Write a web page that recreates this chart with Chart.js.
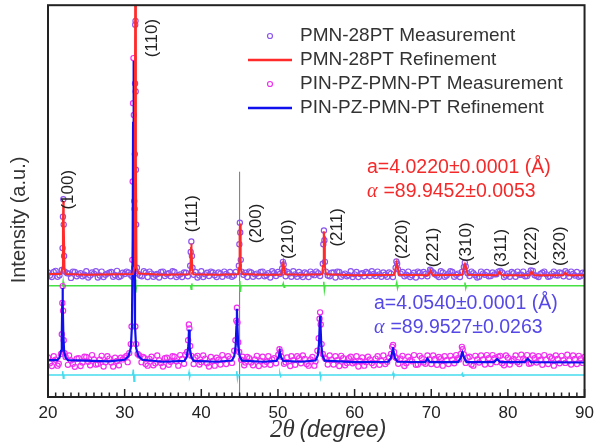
<!DOCTYPE html>
<html>
<head>
<meta charset="utf-8">
<script src="https://cdn.jsdelivr.net/npm/chart.js@4.4.1/dist/chart.umd.min.js"></script>
<style>body{margin:0;background:#fff}</style>
</head>
<body>
<canvas id="xrd" width="600" height="446"></canvas>
<script>
// PMN-28PT refinement (2theta, intensity a.u.)
const pmnFit = [[20,31.4],[21.7,31.4],[21.85,33],[21.95,45],[22.0,50],[22.05,45],[22.15,33],[22.3,31.4],
  [25,31.2],[31.1,31.4],[31.25,33],[31.33,60],[31.4,130],[31.47,60],[31.55,33],[31.8,31.5],
  [35,31.2],[38.45,31.3],[38.58,33],[38.66,38],[38.7,39.2],[38.74,38],[38.82,33],[38.95,31.3],
  [42,31.2],[44.8,31.3],[44.93,33],[45.0,42],[45.05,44.3],[45.1,42],[45.17,33],[45.3,31.4],
  [48,31.2],[50.45,31.2],[50.6,33],[50.7,34.2],[50.8,33],[50.95,31.3],
  [53,31.2],[55.75,31.3],[55.88,33.5],[55.96,41],[56.0,42.3],[56.04,41],[56.12,33.5],[56.25,31.3],
  [60,31.1],[65.2,31.2],[65.35,32.8],[65.5,34.2],[65.65,32.8],[65.8,31.2],
  [69.6,31.1],[69.9,32.3],[70.2,31.1],
  [74.05,31.2],[74.25,33],[74.4,33.9],[74.55,33],[74.75,31.2],
  [78.6,31.1],[78.9,32.0],[79.2,31.1],[82.8,31.1],[83.1,32.0],[83.4,31.1],
  [87.2,31.1],[87.5,31.7],[87.8,31.1],[90,31.1]];

// PMN-28PT measured points
const pmnMeas = [[20.0,31.8],[20.5,30.6],[21.0,32.2],[21.5,31.1],[21.8,32.4],[21.9,38],[21.95,46],[22.0,50.5],[22.05,44],[22.1,36],[22.2,32.0],
  [22.5,31.6],[23.0,30.4],[23.5,31.9],[24.0,31.3],[24.5,30.8],[25.0,32.1],[25.5,31.0],[26.0,31.5],[26.5,30.5],[27.0,32.0],
  [27.5,31.2],[28.0,31.7],[28.5,30.7],[29.0,32.2],[29.5,30.9],[30.0,31.4],[30.5,31.8],[31.0,30.7],
  [31.25,33],[31.3,48],[31.33,62],[31.36,80],[31.38,95],[31.4,110],[31.42,96],[31.44,78],[31.47,58],[31.5,44],[31.6,33],
  [32.0,31.0],[32.5,32.1],[33.0,30.6],[33.5,31.5],[34.0,31.2],[34.5,30.5],[35.0,32.0],[35.5,31.4],[36.0,30.8],[36.5,31.9],
  [37.0,31.1],[37.5,30.6],[38.0,31.7],[38.55,33.5],[38.62,37],[38.7,39.7],[38.78,36],[38.85,33],
  [39.0,31.2],[39.5,30.5],[40.0,32.1],[40.5,31.3],[41.0,30.9],[41.5,31.8],[42.0,30.6],[42.5,31.5],[43.0,32.0],[43.5,31.0],
  [44.0,30.7],[44.5,31.9],[44.9,33.5],[44.97,39],[45.03,44.5],[45.08,42],[45.15,35],[45.25,32],
  [45.5,31.2],[46.0,30.6],[46.5,31.8],[47.0,31.3],[47.5,30.8],[48.0,32.0],[48.5,31.1],[49.0,30.5],[49.5,31.6],[50.0,31.9],
  [50.55,32.8],[50.65,34.5],[50.75,33.8],[50.85,32.3],
  [51.0,30.8],[51.5,31.5],[52.0,32.1],[52.5,30.7],[53.0,31.2],[53.5,31.8],[54.0,30.6],[54.5,31.4],[55.0,32.0],[55.5,30.9],
  [55.85,34],[55.92,39],[56.0,42.5],[56.06,40],[56.13,34.5],[56.25,32],
  [56.5,31.0],[57.0,31.7],[57.5,30.5],[58.0,31.9],[58.5,31.2],[59.0,30.8],[59.5,32.1],[60.0,31.3],[60.5,30.6],[61.0,31.6],
  [61.5,31.9],[62.0,30.9],[62.5,31.4],[63.0,32.0],[63.5,30.7],[64.0,31.2],[64.5,31.8],[65.0,30.6],
  [65.35,33],[65.45,34.6],[65.55,34],[65.65,32.6],
  [66.0,31.5],[66.5,30.8],[67.0,32.0],[67.5,31.1],[68.0,30.5],[68.5,31.7],[69.0,31.9],[69.5,30.8],[69.85,32.5],[70.0,32.2],
  [70.5,31.3],[71.0,30.6],[71.5,31.8],[72.0,31.0],[72.5,32.1],[73.0,30.7],[73.5,31.5],[74.0,31.9],
  [74.25,33.2],[74.38,34.3],[74.5,33.3],
  [75.0,30.9],[75.5,31.6],[76.0,30.5],[76.5,32.0],[77.0,31.2],[77.5,30.8],[78.0,31.8],[78.5,31.3],[79.0,32.2],[79.5,30.6],
  [80.0,31.5],[80.5,31.9],[81.0,30.7],[81.5,31.2],[82.0,32.0],[82.5,30.9],[83.0,32.3],[83.5,31.1],[84.0,30.6],[84.5,31.7],
  [85.0,31.3],[85.5,30.8],[86.0,32.0],[86.5,31.0],[87.0,31.6],[87.5,32.1],[88.0,30.7],[88.5,31.4],[89.0,31.9],[89.5,30.9],[90.0,31.5]];

// more PMN-28PT background points between the ones above
const pmnMeasFill = [[20.25,31.0],[20.75,31.9],[21.25,30.7],[22.75,31.5],[23.25,32.0],[23.75,30.8],[24.25,31.6],[24.75,31.2],
  [25.25,30.5],[25.75,31.8],[26.25,32.1],[26.75,31.0],[27.25,30.6],[27.75,31.5],[28.25,31.9],[28.75,31.1],[29.25,30.6],
  [29.75,31.7],[30.25,32.0],[30.75,31.2],[31.75,31.5],[32.25,30.8],[32.75,31.7],[33.25,32.0],[33.75,30.7],[34.25,31.4],
  [34.75,31.9],[35.25,30.9],[35.75,31.6],[36.25,32.1],[36.75,30.6],[37.25,31.3],[37.75,31.8],[38.25,30.8],[39.25,31.9],
  [39.75,31.0],[40.25,30.6],[40.75,31.7],[41.25,32.0],[41.75,31.1],[42.25,31.8],[42.75,30.7],[43.25,31.4],[43.75,31.9],
  [44.25,31.0],[45.75,31.7],[46.25,32.0],[46.75,30.7],[47.25,31.5],[47.75,31.9],[48.25,30.8],[48.75,31.6],[49.25,32.1],
  [49.75,30.9],[50.25,31.4],[51.25,31.9],[51.75,30.7],[52.25,31.3],[52.75,31.9],[53.25,30.6],[53.75,31.5],[54.25,32.0],
  [54.75,31.1],[55.25,31.6],[56.75,30.8],[57.25,31.8],[57.75,32.0],[58.25,30.7],[58.75,31.5],[59.25,31.1],[59.75,30.6],
  [60.25,31.9],[60.75,31.4],[61.25,30.8],[61.75,31.6],[62.25,32.1],[62.75,30.9],[63.25,31.3],[63.75,31.8],[64.25,30.7],
  [64.75,31.5],[66.25,31.9],[66.75,31.2],[67.25,30.6],[67.75,31.7],[68.25,32.0],[68.75,30.8],[69.25,31.4],[70.25,31.8],
  [70.75,31.0],[71.25,32.1],[71.75,30.7],[72.25,31.5],[72.75,31.9],[73.25,31.2],[73.75,30.6],[74.75,31.6],[75.25,32.0],
  [75.75,31.1],[76.25,30.7],[76.75,31.5],[77.25,31.9],[77.75,30.9],[78.25,31.3],[78.75,32.0],[79.25,31.8],[79.75,31.0],
  [80.25,30.7],[80.75,31.6],[81.25,32.0],[81.75,31.2],[82.25,30.8],[82.75,31.5],[83.25,32.2],[83.75,30.9],[84.25,31.4],
  [84.75,32.0],[85.25,30.7],[85.75,31.5],[86.25,31.1],[86.75,31.8],[87.25,30.8],[87.75,31.6],[88.25,32.0],[88.75,31.0],
  [89.25,30.7],[89.75,31.7]];

// PMN-28PT difference curve
const pmnDiff = [[20,28.4],[21.9,28.4],[21.97,29.4],[22.05,27.6],[22.12,28.4],[31.3,28.4],[31.38,30.0],[31.45,26.6],[31.55,28.4],
  [38.6,28.4],[38.68,27.5],[38.76,29.0],[38.82,28.4],[44.95,28.4],[45.02,29.6],[45.1,26.8],[45.18,28.4],
  [50.6,28.4],[50.7,29.0],[50.8,28.0],[50.88,28.4],[55.9,28.4],[55.98,29.4],[56.06,27.3],[56.14,28.4],
  [65.4,28.4],[65.5,29.2],[65.6,27.8],[65.68,28.4],[74.3,28.4],[74.4,29.2],[74.5,27.8],[74.58,28.4],[90,28.4]];

// PIN-PZ-PMN-PT refinement
const pinFit = [[20,9.4],[21.2,9.4],[21.5,10.0],[21.7,11.8],[21.8,16],[21.86,24],[21.9,27.8],[21.94,24],[22.0,16],[22.1,11.8],[22.3,10.0],[22.6,9.4],
  [28,9.1],[30.0,9.5],[30.5,10.4],[30.8,12.5],[30.95,18],[31.05,40],[31.1,70],[31.15,85.8],[31.2,70],[31.25,40],[31.35,18],[31.5,12.5],[31.8,10.4],[32.3,9.5],
  [35,9.0],[37.8,9.2],[38.1,10.2],[38.28,12.5],[38.35,15],[38.4,17.2],[38.45,15],[38.52,12.5],[38.7,10.2],[39.0,9.2],
  [42,9.0],[44.0,9.3],[44.3,10.4],[44.48,13],[44.58,18],[44.65,22.5],[44.72,18],[44.82,13],[45.0,10.4],[45.3,9.3],
  [48,9.0],[49.8,9.2],[50.1,10.2],[50.25,11.6],[50.4,10.2],[50.7,9.2],
  [53,9.0],[54.9,9.3],[55.2,10.6],[55.35,13.5],[55.44,18],[55.5,20.8],[55.56,18],[55.65,13.5],[55.8,10.6],[56.1,9.3],
  [60,8.9],[64.4,9.0],[64.75,10.0],[64.92,11.6],[65.0,12.7],[65.08,11.6],[65.25,10.0],[65.6,9.0],
  [69.2,8.9],[69.5,9.8],[69.8,8.9],[73.5,8.9],[73.85,10.0],[74.0,11.2],[74.05,11.4],[74.12,11.0],[74.3,10.0],[74.6,8.9],
  [78.2,8.9],[78.6,9.7],[79.0,8.9],[82.2,8.9],[82.6,9.8],[83.0,8.9],[90,8.8]];

// PIN-PZ-PMN-PT measured points
const pinMeas = [[20.0,10.1],[20.5,7.9],[21.0,9.5],[21.4,8.5],[21.7,11],[21.8,16],[21.87,24],[21.92,28.3],[21.97,22],[22.05,14.5],[22.15,11.2],[22.3,10.2],
  [22.6,8.2],[23.0,9.3],[23.5,7.7],[24.0,9.9],[24.5,8.8],[25.0,10.2],[25.5,8.1],[26.0,9.6],[26.5,8.4],[27.0,10.5],
  [27.5,8.9],[28.0,9.8],[28.5,7.8],[29.0,9.2],[29.5,10.0],[30.0,10.1],[30.4,8.9],
  [30.6,11.2],[30.8,13.5],[30.9,18],[31.0,35],[31.05,55],[31.1,75],[31.15,86.5],[31.2,72],[31.25,50],[31.3,32],[31.4,18],[31.5,13.5],[31.7,11],[31.9,10.6],
  [32.2,8.9],[32.6,9.9],[33.0,8.0],[33.5,10.3],[34.0,8.6],[34.5,9.4],[35.0,7.8],[35.5,10.0],[36.0,9.0],[36.5,10.3],
  [37.0,8.0],[37.5,9.7],[37.9,10.8],[38.15,11.5],[38.28,14.5],[38.38,18.5],[38.45,17.5],[38.55,13],[38.7,10.5],
  [39.0,8.4],[39.5,10.5],[40.0,8.9],[40.5,9.8],[41.0,7.8],[41.5,9.2],[42.0,10.0],[42.5,8.3],[43.0,9.6],[43.5,10.4],[44.0,8.7],
  [44.3,11.8],[44.45,14.5],[44.57,19.5],[44.65,22.8],[44.72,19],[44.82,14],[44.95,11.5],
  [45.2,9.5],[45.6,8.1],[46.0,10.2],[46.5,8.8],[47.0,9.6],[47.5,7.9],[48.0,10.3],[48.5,9.0],[49.0,8.2],[49.5,9.9],
  [50.05,10.8],[50.2,12.2],[50.32,11.5],[50.45,10.3],
  [50.8,8.5],[51.2,10.1],[51.6,7.9],[52.0,9.4],[52.5,10.4],[53.0,8.6],[53.5,9.7],[54.0,8.0],[54.5,10.2],[54.9,9.1],
  [55.15,11.8],[55.32,15],[55.43,20],[55.5,21.6],[55.58,18.5],[55.7,13.5],[55.85,11],
  [56.1,10.0],[56.5,8.3],[57.0,9.5],[57.5,10.4],[58.0,7.9],[58.5,9.9],[59.0,8.7],[59.5,10.3],[60.0,9.0],[60.5,7.8],
  [61.0,10.1],[61.5,8.9],[62.0,9.6],[62.5,8.1],[63.0,10.4],[63.5,9.2],[64.0,8.4],[64.5,10.0],
  [64.75,11],[64.9,12.8],[65.02,13.3],[65.15,11.5],[65.3,10.2],
  [65.7,8.5],[66.0,9.8],[66.5,7.9],[67.0,10.3],[67.5,9.1],[68.0,8.2],[68.5,10.5],[69.0,8.8],[69.5,10.6],[70.0,8.4],
  [70.5,9.7],[71.0,10.2],[71.5,8.0],[72.0,9.4],[72.5,10.5],[73.0,8.6],[73.5,9.9],
  [73.85,11.0],[74.0,12.8],[74.1,12.2],[74.25,10.9],
  [74.5,8.7],[75.0,10.3],[75.5,8.0],[76.0,9.6],[76.5,10.6],[77.0,8.3],[77.5,9.9],[78.0,10.7],[78.5,8.9],[79.0,10.5],
  [79.5,8.1],[80.0,10.0],[80.5,9.2],[81.0,10.6],[81.5,8.4],[82.0,9.8],[82.5,10.7],[83.0,8.6],[83.5,9.9],[84.0,10.4],
  [84.5,8.2],[85.0,9.5],[85.5,10.3],[86.0,8.0],[86.5,9.7],[87.0,10.5],[87.5,8.7],[88.0,9.3],[88.5,10.6],[89.0,8.4],[89.5,9.8],[90.0,10.2]];

// more PIN-PZ-PMN-PT background points
const pinMeasFill = [[20.25,8.6],[20.75,10.4],[21.25,8.0],[22.75,10.6],[23.25,8.5],[23.75,9.8],[24.25,7.9],[24.75,10.3],
  [25.25,9.0],[25.75,10.7],[26.25,8.3],[26.75,9.5],[27.25,7.8],[27.75,10.4],[28.25,8.8],[28.75,10.0],[29.25,8.1],[29.75,9.6],
  [30.25,10.5],[32.4,10.2],[32.75,8.4],[33.25,9.7],[33.75,8.1],[34.25,10.6],[34.75,8.7],[35.25,9.9],[35.75,8.2],[36.25,10.4],
  [36.75,9.1],[37.25,10.7],[37.75,8.5],[39.25,10.1],[39.75,8.3],[40.25,10.6],[40.75,8.6],[41.25,10.2],[41.75,8.0],[42.25,9.5],
  [42.75,10.7],[43.25,8.4],[43.75,9.8],[45.4,10.3],[45.75,8.8],[46.25,9.9],[46.75,8.1],[47.25,10.5],[47.75,9.2],[48.25,8.3],
  [48.75,10.4],[49.25,9.6],[49.75,8.6],[51.0,8.9],[51.75,10.4],[52.25,8.2],[52.75,9.9],[53.25,10.6],[53.75,8.4],[54.25,9.6],
  [54.75,8.0],[56.25,9.7],[56.75,10.6],[57.25,8.3],[57.75,9.4],[58.25,10.5],[58.75,8.1],[59.25,9.9],[59.75,8.6],[60.25,10.4],
  [60.75,9.2],[61.25,8.0],[61.75,10.3],[62.25,8.7],[62.75,9.8],[63.25,8.2],[63.75,10.6],[64.25,9.0],[65.5,9.9],[66.25,10.5],
  [66.75,8.6],[67.25,9.4],[67.75,10.7],[68.25,8.3],[68.75,9.9],[69.25,8.5],[69.75,9.6],[70.25,10.6],[70.75,8.2],[71.25,9.8],
  [71.75,10.4],[72.25,8.4],[72.75,9.5],[73.25,10.7],[73.65,9.6],[74.75,10.0],[75.25,8.3],[75.75,10.5],[76.25,8.8],[76.75,9.6],
  [77.25,10.7],[77.75,8.4],[78.25,9.9],[78.75,10.3],[79.25,8.6],[79.75,10.6],[80.25,8.3],[80.75,9.7],[81.25,8.9],[81.75,10.8],
  [82.25,9.4],[82.75,8.5],[83.25,10.6],[83.75,8.8],[84.25,9.5],[84.75,10.7],[85.25,8.4],[85.75,9.9],[86.25,10.6],[86.75,8.6],
  [87.25,9.4],[87.75,10.8],[88.25,8.3],[88.75,9.7],[89.25,10.5],[89.75,8.7]];

// PIN-PZ-PMN-PT difference curve
const pinDiff = [[20,5.6],[21.85,5.6],[21.92,6.6],[22.0,4.8],[22.08,5.6],[31.05,5.6],[31.13,7.0],[31.22,4.0],[31.32,5.6],
  [38.32,5.6],[38.4,6.3],[38.48,5.1],[38.56,5.6],[44.55,5.6],[44.63,6.6],[44.72,4.7],[44.8,5.6],
  [50.15,5.6],[50.25,6.1],[50.35,5.3],[50.43,5.6],[55.4,5.6],[55.48,6.5],[55.57,4.9],[55.65,5.6],
  [64.95,5.6],[65.03,6.1],[65.12,5.2],[65.2,5.6],[73.95,5.6],[74.05,6.0],[74.15,5.3],[74.22,5.6],[90,5.6]];

// guide line at 2theta = 45
const guide45 = [[45,0],[45,57.5]];

const xTicks = [20, 30, 40, 50, 60, 70, 80, 90];
const peakLabels = ['(100)','(110)','(111)','(200)','(210)','(211)','(220)','(221)','(310)','(311)','(222)','(320)'];
// where each label sits (2theta, intensity)
const peakLabelPos = [[22.6,52.9],[33.6,91.6],[38.8,46.8],[47.2,44.3],[51.3,40.3],[57.8,43.3],
  [66.2,40.3],[70.3,38.2],[74.6,39.5],[79.1,38.0],[83.0,38.5],[86.9,38.5]];

const SANS = '"Liberation Sans", Arial, sans-serif';
const SERIF = '"Liberation Serif", "Times New Roman", serif';
const xy = arr => arr.map(p => ({x: p[0], y: p[1]}));

const decor = {
  id: 'decor',
  afterDatasetsDraw(chart) {
    const ctx = chart.ctx;
    const a = chart.chartArea;
    const xs = chart.scales.x, ys = chart.scales.y;
    ctx.save();
    // frame
    ctx.strokeStyle = '#222';
    ctx.lineWidth = 2;
    ctx.strokeRect(a.left, a.top, a.right - a.left, a.bottom - a.top);
    // inward ticks on bottom axis
    ctx.lineWidth = 1.5;
    for (let v = xTicks[0]; v <= xTicks[xTicks.length - 1]; v++) {
      const px = xs.getPixelForValue(v);
      const len = xTicks.includes(v) ? 8 : 4.5;
      ctx.beginPath();
      ctx.moveTo(px, a.bottom);
      ctx.lineTo(px, a.bottom - len);
      ctx.stroke();
    }
    // peak labels
    ctx.fillStyle = '#222';
    ctx.font = '17px ' + SANS;
    ctx.textAlign = 'center';
    ctx.textBaseline = 'middle';
    peakLabels.forEach((t, i) => {
      ctx.save();
      ctx.translate(xs.getPixelForValue(peakLabelPos[i][0]), ys.getPixelForValue(peakLabelPos[i][1]));
      ctx.rotate(-Math.PI / 2);
      ctx.fillText(t, 0, 0);
      ctx.restore();
    });
    // axis titles
    ctx.fillStyle = '#333';
    ctx.save();
    ctx.translate(19, 220);
    ctx.rotate(-Math.PI / 2);
    ctx.font = '20px ' + SANS;
    ctx.fillText('Intensity (a.u.)', 0, 0);
    ctx.restore();
    ctx.textAlign = 'left';
    ctx.textBaseline = 'alphabetic';
    ctx.font = 'italic 25px ' + SERIF;
    ctx.fillText('2θ', 270, 437);
    ctx.font = 'italic 23px ' + SANS;
    ctx.fillText(' (degree)', 293, 437);
    // legend
    ctx.textBaseline = 'middle';
    ctx.font = '19px ' + SANS;
    const ds = chart.data.datasets;
    const legendRows = [[ds[4], 36], [ds[0], 60], [ds[5], 84], [ds[1], 108]];
    legendRows.forEach(([d, y]) => {
      ctx.strokeStyle = d.borderColor;
      if (d.showLine) {
        ctx.lineWidth = 2.5;
        ctx.beginPath();
        ctx.moveTo(248, y);
        ctx.lineTo(292, y);
        ctx.stroke();
      } else {
        ctx.lineWidth = 1.2;
        ctx.beginPath();
        ctx.arc(270, y, 2.5, 0, Math.PI * 2);
        ctx.stroke();
      }
      ctx.fillStyle = '#333';
      ctx.fillText(d.label, 300, y);
    });
    // lattice parameters
    const para = (color, at, aText, alphaText) => {
      ctx.fillStyle = color;
      ctx.font = '19.5px ' + SANS;
      ctx.fillText(aText, at[0], at[1]);
      ctx.font = 'italic 20px ' + SERIF;
      ctx.fillText('α', at[0], at[1] + 24);
      ctx.font = '19.5px ' + SANS;
      ctx.fillText(' =' + alphaText, at[0] + 11, at[1] + 24);
    };
    para('#f42a2a', [367, 168], 'a=4.0220±0.0001 (Å)', '89.9452±0.0053');
    para('#5548e6', [374, 304], 'a=4.0540±0.0001 (Å)', '89.9527±0.0263');
    ctx.restore();
  }
};

new Chart(document.getElementById('xrd'), {
  type: 'scatter',
  data: {
    datasets: [
      {label: 'PMN-28PT Refinement', data: xy(pmnFit), showLine: true, borderColor: '#ff2a2a', borderWidth: 2, pointRadius: 0, order: 1},
      {label: 'PIN-PZ-PMN-PT Refinement', data: xy(pinFit), showLine: true, borderColor: '#1010ee', borderWidth: 2.2, pointRadius: 0, order: 1},
      {label: 'diff1', data: xy(pmnDiff), showLine: true, borderColor: '#44e044', borderWidth: 1.5, pointRadius: 0, order: 3},
      {label: 'diff2', data: xy(pinDiff), showLine: true, borderColor: '#44dcee', borderWidth: 1.5, pointRadius: 0, order: 3},
      {label: 'PMN-28PT Measurement', data: xy(pmnMeas.concat(pmnMeasFill)), borderColor: '#8a55f0', backgroundColor: 'rgba(0,0,0,0)', pointRadius: 2.6, pointBorderWidth: 1.2, order: 2},
      {label: 'PIN-PZ-PMN-PT Measurement', data: xy(pinMeas.concat(pinMeasFill)), borderColor: '#f030f0', backgroundColor: 'rgba(0,0,0,0)', pointRadius: 2.6, pointBorderWidth: 1.2, order: 2},
      {label: 'guide', data: xy(guide45), showLine: true, borderColor: '#777', borderWidth: 1, pointRadius: 0, order: 4}
    ]
  },
  options: {
    responsive: false,
    animation: false,
    devicePixelRatio: 1,
    layout: {padding: {left: 0, right: 11, top: 2, bottom: 0}},
    plugins: {legend: {display: false}, tooltip: {enabled: false}},
    scales: {
      x: {
        type: 'linear', min: 20, max: 90,
        grid: {display: false, drawTicks: false},
        border: {display: false},
        afterBuildTicks: s => { s.ticks = xTicks.map(v => ({value: v})); },
        ticks: {autoSkip: false, maxRotation: 0, padding: 6, color: '#222', font: {size: 17, family: SANS}},
        afterFit: s => { s.height = 49; }
      },
      y: {
        min: 0, max: 100,
        grid: {display: false, drawTicks: false},
        border: {display: false},
        ticks: {display: false},
        afterFit: s => { s.width = 48; }
      }
    }
  },
  plugins: [decor]
});
</script>
</body>
</html>
